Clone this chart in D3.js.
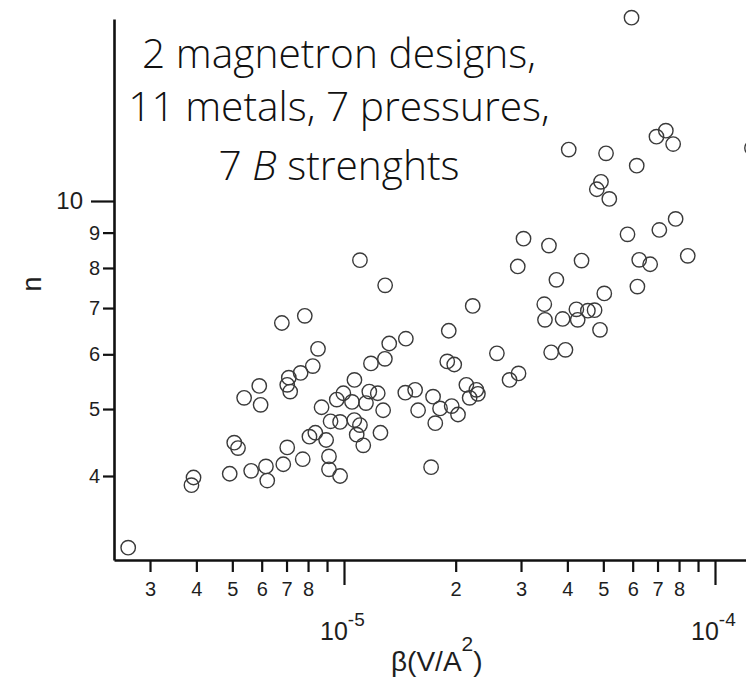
<!DOCTYPE html>
<html>
<head>
<meta charset="utf-8">
<script src="https://cdn.jsdelivr.net/npm/d3@7"></script>
<style>
  body { margin: 0; background: #fff; }
  svg { display: block; }
</style>
</head>
<body>
<svg id="chart" width="746" height="678"></svg>
<script>
// Exponent n versus beta; beta given in units of 1e-5 V/A^2
const beta = [
  0.262, 0.393, 0.388, 0.492, 0.562, 0.616, 0.621, 0.686, 0.703, 0.774,
  0.506, 0.518, 0.538, 0.591, 0.596, 0.680, 0.784, 0.851, 0.824, 0.764,
  0.710, 0.703, 0.716, 0.870, 0.920, 0.976, 0.807, 0.837, 0.895, 0.911,
  0.911, 0.976, 1.104, 1.291, 2.223, 1.916, 1.468, 1.324, 1.289, 1.182,
  1.898, 1.982, 2.583, 2.794, 2.954, 1.067, 0.996, 0.956, 1.170, 1.233,
  1.051, 1.146, 1.275, 1.463, 1.555, 1.738, 2.137, 2.274, 2.181, 2.296,
  1.815, 1.951, 2.029, 1.584, 1.762, 1.066, 1.104, 1.082, 1.127, 1.254,
  1.717, 4.928, 4.802, 5.189, 7.832, 7.079, 5.810, 3.047, 3.568, 2.940,
  4.368, 6.247, 6.687, 8.444, 3.737, 6.178, 5.030, 3.466, 3.481, 3.884,
  4.230, 4.265, 4.543, 4.736, 4.898, 3.617, 3.953, 5.957, 4.034, 5.085,
  6.152, 6.954, 7.370, 7.712, 12.58
];
const nValues = [
  3.15, 3.98, 3.88, 4.03, 4.07, 4.13, 3.94, 4.16, 4.40, 4.23,
  4.47, 4.39, 5.19, 5.40, 5.07, 6.66, 6.82, 6.11, 5.77, 5.64,
  5.55, 5.42, 5.30, 5.03, 4.80, 4.79, 4.56, 4.62, 4.51, 4.27,
  4.09, 4.00, 8.21, 7.55, 7.05, 6.49, 6.32, 6.22, 5.91, 5.82,
  5.86, 5.80, 6.02, 5.51, 5.63, 5.51, 5.27, 5.16, 5.30, 5.27,
  5.12, 5.10, 4.98, 5.28, 5.33, 5.21, 5.42, 5.33, 5.19, 5.26,
  5.01, 5.05, 4.91, 4.98, 4.77, 4.82, 4.74, 4.59, 4.43, 4.62,
  4.12, 10.66, 10.40, 10.07, 9.42, 9.08, 8.95, 8.82, 8.62, 8.04,
  8.20, 8.22, 8.10, 8.33, 7.69, 7.52, 7.35, 7.09, 6.73, 6.75,
  6.97, 6.73, 6.94, 6.95, 6.51, 6.04, 6.09, 18.42, 11.87, 11.72,
  11.25, 12.39, 12.64, 12.09, 11.93
];

// Axis ticks
const xTicks = [3e-6, 4e-6, 5e-6, 6e-6, 7e-6, 8e-6, 9e-6, 1e-5,
                2e-5, 3e-5, 4e-5, 5e-5, 6e-5, 7e-5, 8e-5, 9e-5, 1e-4];
const xTickLabels = ["3", "4", "5", "6", "7", "8", "", "",
                     "2", "3", "4", "5", "6", "7", "8", "", ""];
const xDecades = [1e-5, 1e-4];
const xDecadeExponents = ["-5", "-4"];
const yTicks = [4, 5, 6, 7, 8, 9, 10];
const yTickLabels = ["4", "5", "6", "7", "8", "9", "10"];

const noteLines = ["2 magnetron designs,", "11 metals, 7 pressures,"];

const svg = d3.select("#chart");
const axisFont = "'Liberation Sans', Arial, Helvetica, sans-serif";

// Log scales anchored on the decade ticks, then stretched to the frame
const x = d3.scaleLog().domain([1e-5, 1e-4]).range([344, 715]);
const xLeft = 114, xRight = 746;
x.domain([x.invert(xLeft), x.invert(xRight)]).range([xLeft, xRight]);

const y = d3.scaleLog().domain([4, 10]).range([476, 201]);
const yBottom = 560, yTop = 19;
y.domain([y.invert(yBottom), y.invert(yTop)]).range([yBottom, yTop]);

const ink = "#111";
const labelInk = "#1e1e1e";

// X axis
const xAxis = svg.append("g")
  .attr("transform", `translate(0,${yBottom})`)
  .call(d3.axisBottom(x)
    .tickValues(xTicks)
    .tickSizeInner(12)
    .tickSizeOuter(0)
    .tickPadding(10)
    .tickFormat((d, i) => xTickLabels[i]));
xAxis.select(".domain").attr("stroke", ink).attr("stroke-width", 2.6);
xAxis.selectAll(".tick line").attr("stroke", ink).attr("stroke-width", 2.2)
  .filter(d => xDecades.some(v => Math.abs(v - d) / v < 1e-9))
  .attr("y2", 25);
xAxis.selectAll(".tick text")
  .attr("fill", labelInk).attr("font-family", axisFont).attr("font-size", 20)
  .attr("dy", "0.71em");

// Decade labels 10^-5 and 10^-4 below the axis
xDecades.forEach((v, i) => {
  const t = svg.append("text")
    .attr("x", x(v) - 24).attr("y", 640)
    .attr("font-family", axisFont).attr("font-size", 25).attr("fill", labelInk);
  t.append("tspan").text("10");
  t.append("tspan").attr("dy", -14).attr("font-size", 19).text(xDecadeExponents[i]);
});

// Y axis
const yAxis = svg.append("g")
  .attr("transform", `translate(${xLeft},0)`)
  .call(d3.axisLeft(y)
    .tickValues(yTicks)
    .tickSizeInner(11)
    .tickSizeOuter(0)
    .tickPadding(3)
    .tickFormat((d, i) => yTickLabels[i]));
yAxis.select(".domain").attr("stroke", ink).attr("stroke-width", 2.6);
yAxis.selectAll(".tick line").attr("stroke", ink).attr("stroke-width", 2.2);
yAxis.selectAll(".tick text")
  .attr("fill", labelInk).attr("font-family", axisFont).attr("font-size", 20);
yAxis.selectAll(".tick").filter(d => d === 10)
  .call(g => g.select("line").attr("x2", -23))
  .call(g => g.select("text").attr("x", -31).attr("font-size", 24));

// Axis titles
svg.append("text")
  .attr("transform", "translate(41,284) rotate(-90)")
  .attr("text-anchor", "middle")
  .attr("font-family", axisFont).attr("font-size", 27).attr("fill", labelInk)
  .text("n");

const xTitle = svg.append("text")
  .attr("x", 391).attr("y", 671)
  .attr("font-family", axisFont).attr("font-size", 28).attr("fill", labelInk);
xTitle.append("tspan").text("\u03B2(V/A");
xTitle.append("tspan").attr("dy", -20).attr("font-size", 21).text("2");
xTitle.append("tspan").attr("dy", 20).text(")");

// Data points: open circles
svg.append("g")
  .selectAll("circle")
  .data(beta.map((b, i) => ({ b: b * 1e-5, n: nValues[i] })))
  .join("circle")
  .attr("cx", d => x(d.b))
  .attr("cy", d => y(d.n))
  .attr("r", 7.2)
  .attr("fill", "none")
  .attr("stroke", "#3a3a3a")
  .attr("stroke-width", 1.4);

// Annotation
const noteFont = "'Open Sans', 'Noto Sans', sans-serif";
const note = svg.append("g")
  .attr("font-family", noteFont).attr("font-weight", 300)
  .attr("fill", "#111").attr("text-anchor", "middle");
const first = note.append("text").attr("x", 339).attr("y", 68)
  .attr("font-size", 40).text(noteLines[0]);
// size the note so the first line spans its intended width
const noteSize = 40 * 394 / first.node().getComputedTextLength();
first.attr("font-size", noteSize);
note.append("text").attr("x", 339).attr("y", 121)
  .attr("font-size", noteSize).text(noteLines[1]);
const third = note.append("text").attr("x", 339).attr("y", 180)
  .attr("font-size", noteSize);
third.append("tspan").text("7 ");
third.append("tspan").attr("font-style", "italic").text("B");
third.append("tspan").text(" strenghts");
</script>
</body>
</html>
